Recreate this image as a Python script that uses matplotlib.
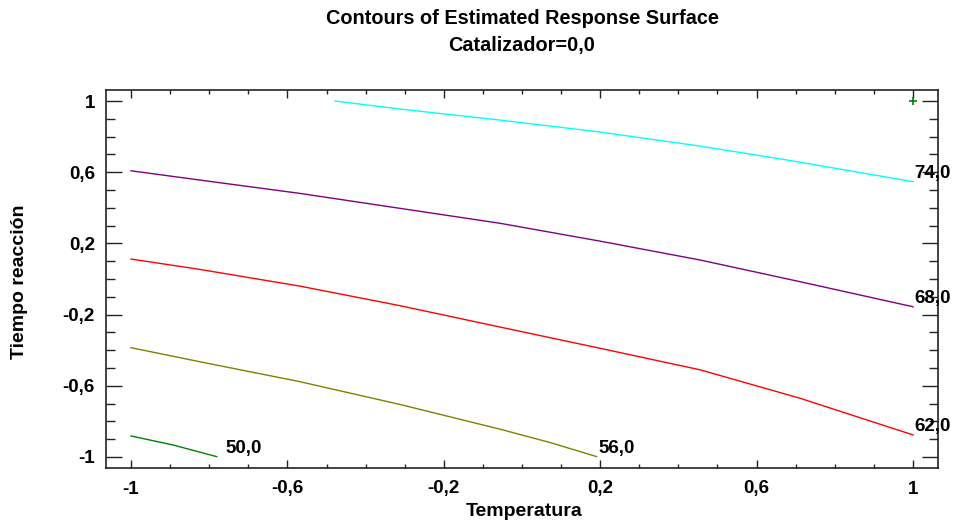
import matplotlib
matplotlib.use('Agg')
import matplotlib.pyplot as plt
import numpy as np
from matplotlib.ticker import FixedLocator, FuncFormatter

plt.rcParams['font.family'] = ['Liberation Sans', 'DejaVu Sans']
plt.rcParams['font.weight'] = 'bold'

# contour levels and the traced lines (Temperatura, Tiempo reaccion)
levels = [50.0, 56.0, 62.0, 68.0, 74.0]
colors = ['#008000', '#808000', '#ff0000', '#800080', '#00ffff']

x50 = [-1.0, -0.892, -0.781]
y50 = [-0.882, -0.933, -0.998]

x56 = [-1.0, -0.824, -0.568, -0.312, -0.056, 0.072, 0.191]
y56 = [-0.386, -0.465, -0.577, -0.705, -0.844, -0.919, -0.998]

x62 = [-1.0, -0.824, -0.568, -0.312, -0.056, 0.199, 0.455, 0.711, 1.0]
y62 = [0.112, 0.054, -0.040, -0.150, -0.270, -0.389, -0.510, -0.670, -0.876]

x68 = [-1.0, -0.824, -0.568, -0.312, -0.056, 0.199, 0.455, 0.711, 1.0]
y68 = [0.608, 0.556, 0.481, 0.397, 0.313, 0.213, 0.107, -0.015, -0.156]

x74 = [-0.478, -0.312, -0.056, 0.199, 0.455, 0.677, 1.0]
y74 = [1.0, 0.955, 0.893, 0.826, 0.747, 0.669, 0.547]

lines_x = [x50, x56, x62, x68, x74]
lines_y = [y50, y56, y62, y68, y74]

# optimum point marker
opt_x = [1.0]
opt_y = [1.0]

ticks = [-1, -0.6, -0.2, 0.2, 0.6, 1]


def coma(v, pos):
    return ('%g' % round(v, 2)).replace('.', ',')


fig = plt.figure(figsize=(9.58, 5.27), dpi=100)
ax = fig.add_axes([106/958, 1-468/527, 832/958, 378/527])

for xs, ys, c, lv in zip(lines_x, lines_y, colors, levels):
    ax.plot(xs, ys, color=c, lw=1.0)
    dx = 6 if lv == 50.0 else 1
    ax.annotate(('%.1f' % lv).replace('.', ','), (xs[-1], ys[-1]),
                xytext=(dx, 6), textcoords='offset points',
                ha='left', va='center', fontsize=13.5, fontweight='bold')

ax.plot(opt_x, opt_y, '+', color='#008000', ms=6, mew=1.2)

ax.set_xlim(-1.064, 1.064)
ax.set_ylim(-1.062, 1.062)

ax.xaxis.set_major_locator(FixedLocator(ticks))
ax.yaxis.set_major_locator(FixedLocator(ticks))
ax.xaxis.set_minor_locator(FixedLocator(np.arange(-1, 1.01, 0.1)))
ax.yaxis.set_minor_locator(FixedLocator(np.arange(-1, 1.01, 0.1)))
ax.xaxis.set_major_formatter(FuncFormatter(coma))
ax.yaxis.set_major_formatter(FuncFormatter(coma))

ax.tick_params(axis='both', which='both', direction='in', top=True, right=True,
               color='#222222', width=1.0, labelsize=13.5)
ax.tick_params(axis='x', which='major', length=5.8, pad=9)
ax.tick_params(axis='x', which='minor', length=2.9)
ax.tick_params(axis='y', which='major', length=11.5, pad=8)
ax.tick_params(axis='y', which='minor', length=6.5)
for lab in ax.get_xticklabels() + ax.get_yticklabels():
    lab.set_fontweight('bold')

for sp in ax.spines.values():
    sp.set_color('#222222')
    sp.set_linewidth(1.2)

fig.text(522/958, 1-18/527, 'Contours of Estimated Response Surface',
         ha='center', va='center', fontsize=14.3, fontweight='bold')
fig.text(522/958, 1-45/527, 'Catalizador=0,0',
         ha='center', va='center', fontsize=14.3, fontweight='bold')
fig.text(524/958, 1-512/527, 'Temperatura', ha='center', va='center',
         fontsize=14, fontweight='bold')
fig.text(20/958, 1-282/527, 'Tiempo reacción', ha='center', va='center',
         rotation=90, fontsize=14, fontweight='bold')

fig.savefig('out.png', dpi=100)
